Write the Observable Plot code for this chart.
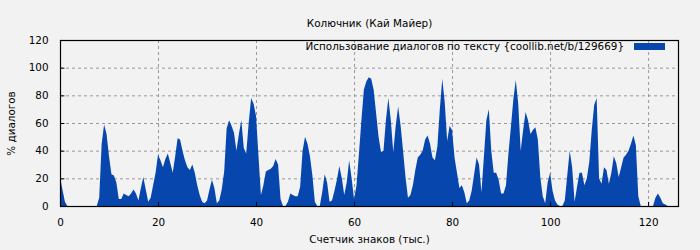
<!DOCTYPE html>
<html><head><meta charset="utf-8">
<script src="https://cdn.jsdelivr.net/npm/d3@7"></script>
<script src="https://cdn.jsdelivr.net/npm/@observablehq/plot@0.6"></script>
<style>
body{margin:0;background:#f2f2f2;font-family:"DejaVu Sans",sans-serif;}
#wrap{position:relative;width:700px;height:250px;}
#chart svg{display:block;}
#legend{position:absolute;right:35px;top:40px;font-size:10.4px;color:#000;display:flex;align-items:center;white-space:nowrap;}
#legend .sw{display:inline-block;width:31px;height:7px;background:#0747ad;margin-left:10px;}
</style></head><body>
<div id="wrap"><div id="chart"></div><div id="legend"></div></div>
<script>
const title = "Колючник (Кай Майер)";
const xLabel = "Счетчик знаков (тыс.)";
const yLabel = "% диалогов";
const seriesName = "Использование диалогов по тексту {coollib.net/b/129669}";
const xTicks = [0, 20, 40, 60, 80, 100, 120];
const yTicks = [0, 20, 40, 60, 80, 100, 120];
const stepK = 0.5; // thousand chars per sample
const dialogPct = [
  21, 12, 3, 0, 0, 0, 0, 0, 0, 0, 0, 0, 0, 0, 0, 0,
  6, 45, 59, 52, 36, 23, 22, 17, 5, 5, 9, 8, 7, 9, 12, 9,
  4, 13, 21, 12, 3, 6, 15, 24, 37, 33, 28, 34, 38, 31, 24, 36,
  49, 48, 40, 33, 28, 26, 30, 24, 15, 8, 3, 2, 4, 12, 19, 13,
  2, 4, 12, 25, 56, 62, 58, 53, 40, 52, 62, 42, 38, 60, 78, 74,
  65, 36, 8, 15, 25, 26, 27, 29, 34, 30, 5, 0, 0, 3, 9, 8,
  7, 7, 14, 40, 50, 45, 36, 22, 3, 0, 0, 10, 23, 17, 3, 4,
  11, 19, 29, 20, 8, 17, 33, 20, 5, 15, 38, 62, 84, 90, 93, 92,
  84, 67, 50, 39, 40, 62, 78, 62, 39, 58, 72, 58, 40, 21, 6, 8,
  15, 26, 35, 37, 40, 48, 51, 45, 35, 33, 43, 70, 92, 75, 47, 58,
  55, 35, 24, 13, 15, 10, 2, 4, 11, 23, 35, 30, 10, 36, 62, 70,
  40, 24, 24, 19, 9, 9, 15, 38, 57, 77, 91, 74, 40, 55, 68, 62,
  52, 55, 57, 48, 21, 7, 2, 17, 24, 11, 4, 1, 0, 0, 4, 22,
  40, 28, 3, 14, 24, 24, 15, 20, 32, 55, 73, 78, 20, 16, 28, 26,
  16, 24, 36, 31, 21, 28, 35, 37, 40, 45, 51, 44, 7, 0, 0, 0,
  0, 0, 0, 6, 9, 6, 2, 1, 0
];
const data = dialogPct.map((v, i) => ({k: i * stepK, pct: v}));

document.getElementById("legend").innerHTML = `<span>${seriesName}</span><span class="sw"></span>`;

const chart = Plot.plot({
  width: 700,
  height: 250,
  marginLeft: 60,
  marginRight: 22,
  marginTop: 40,
  marginBottom: 44,
  style: {background: "#f2f2f2", fontFamily: "DejaVu Sans", fontSize: "10.4px", color: "#000"},
  x: {domain: [0, 126.1], ticks: xTicks, tickSize: 0, tickPadding: 12, tickFormat: d => d, label: xLabel, labelAnchor: "center", labelOffset: 36, labelArrow: "none"},
  y: {domain: [0, 120], ticks: yTicks, tickSize: 0, tickPadding: 12, tickFormat: d => d, label: yLabel, labelAnchor: "center", labelOffset: 53, labelArrow: "none"},
  marks: [
    Plot.ruleY(yTicks.slice(1, -1), {stroke: "#999", strokeDasharray: "3,3", strokeWidth: 1}),
    Plot.ruleX(xTicks.slice(1), {stroke: "#999", strokeDasharray: "3,3", strokeWidth: 1}),
    Plot.areaY(data, {x: "k", y: "pct", curve: "linear", fill: "#0747ad"}),
    Plot.ruleY(yTicks, {x1: 0, x2: 0.9, stroke: "#000"}),
    Plot.ruleX(xTicks, {y1: 0, y2: 3, stroke: "#000"}),
    Plot.frame({stroke: "#000", strokeWidth: 1.2}),
    Plot.text([title], {frameAnchor: "top", dy: -21, fontSize: 10.4})
  ]
});
document.getElementById("chart").appendChild(chart);
</script>
</body></html>
